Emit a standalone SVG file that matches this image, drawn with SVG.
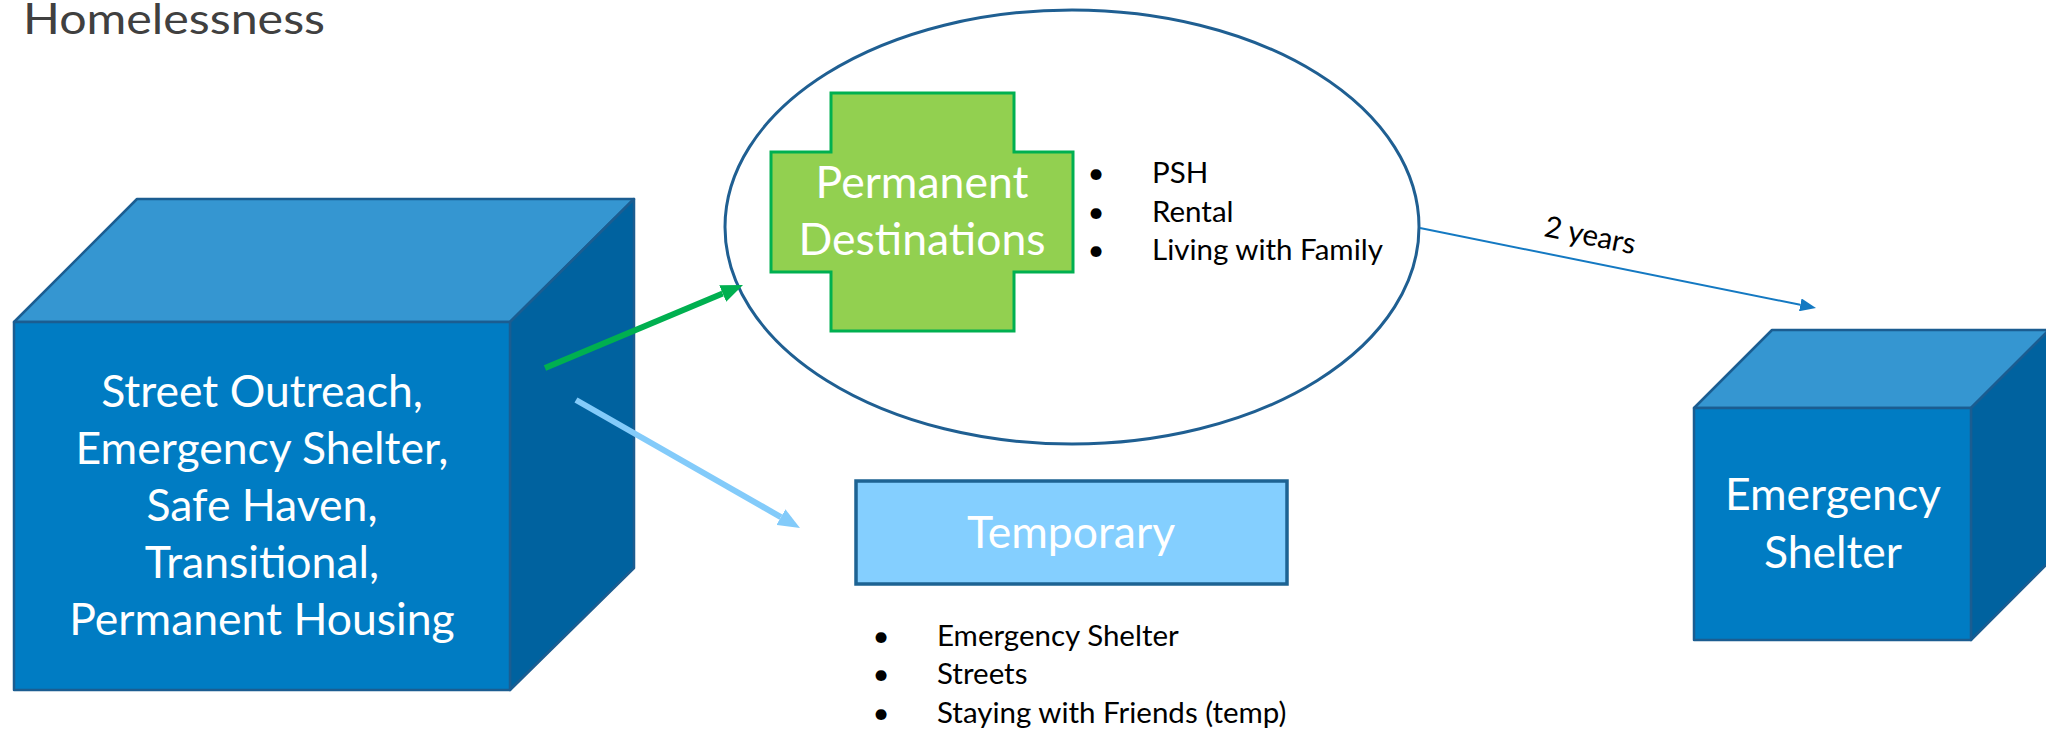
<svg xmlns="http://www.w3.org/2000/svg" width="2046" height="730" viewBox="0 0 2046 730">
  <style>
    .cube-front { fill: #007CC3; stroke: #1B5D91; stroke-width: 2.5; stroke-linejoin: round; }
    .cube-top { fill: #3596D1; stroke: #1B5D91; stroke-width: 2.5; stroke-linejoin: round; }
    .cube-side { fill: #00629F; stroke: #1B5D91; stroke-width: 2.5; stroke-linejoin: round; }
    .big { font-family: Lato, "Liberation Sans", sans-serif; font-size: 44.5px; fill: #FFFFFF; text-anchor: middle; }
    .small { font-family: Lato, "Liberation Sans", sans-serif; font-size: 29.5px; fill: #000000; }
    .dot { text-anchor: middle; }
    .title { font-family: Lato, "Liberation Sans", sans-serif; font-size: 42px; fill: #404040; }
  </style>
  <defs>
    <marker id="head-green" markerUnits="userSpaceOnUse" markerWidth="22" markerHeight="18" refX="0" refY="9" orient="auto">
      <path d="M0,0 L22,9 L0,18 Z" fill="#00B050"/>
    </marker>
    <marker id="head-sky" markerUnits="userSpaceOnUse" markerWidth="22" markerHeight="18" refX="0" refY="9" orient="auto">
      <path d="M0,0 L22,9 L0,18 Z" fill="#83CBFA"/>
    </marker>
    <marker id="head-blue" markerUnits="userSpaceOnUse" markerWidth="16" markerHeight="13" refX="0" refY="6.5" orient="auto">
      <path d="M0,0 L16,6.5 L0,13 Z" fill="#1479C2"/>
    </marker>
  </defs>

  <text class="title" x="23" y="34" textLength="302" lengthAdjust="spacingAndGlyphs">Homelessness</text>

  <!-- source programs cube -->
  <g id="programs">
    <polygon class="cube-top" points="14,322 137,199 634,199 510,322"/>
    <polygon class="cube-side" points="510,322 634,199 634,568 510,690"/>
    <rect class="cube-front" x="14" y="322" width="496" height="368"/>
    <text class="big" x="262" y="407">Street Outreach,</text>
    <text class="big" x="262" y="464">Emergency Shelter,</text>
    <text class="big" x="262" y="521">Safe Haven,</text>
    <text class="big" x="262" y="578">Transitional,</text>
    <text class="big" x="262" y="635">Permanent Housing</text>
  </g>

  <!-- permanent destinations -->
  <g id="permanent">
    <ellipse cx="1072" cy="227" rx="347" ry="217" fill="#FFFFFF" stroke="#1F5F92" stroke-width="3"/>
    <polygon points="831,93 1014,93 1014,152 1073,152 1073,272 1014,272 1014,331 831,331 831,272 771,272 771,152 831,152" fill="#92D050" stroke="#00B050" stroke-width="3"/>
    <text class="big" x="922" y="198">Permanent</text>
    <text class="big" x="922" y="255">Destinations</text>
    <text class="small dot" x="1096" y="183">•</text>
    <text class="small dot" x="1096" y="222">•</text>
    <text class="small dot" x="1096" y="260">•</text>
    <text class="small" x="1152" y="183">PSH</text>
    <text class="small" x="1152" y="222">Rental</text>
    <text class="small" x="1152" y="260">Living with Family</text>
  </g>

  <!-- temporary destinations -->
  <g id="temporary">
    <rect x="856" y="481" width="431" height="103" fill="#84CFFF" stroke="#1D6393" stroke-width="3.5"/>
    <text class="big" x="1071" y="548">Temporary</text>
    <text class="small dot" x="881" y="646">•</text>
    <text class="small dot" x="881" y="684">•</text>
    <text class="small dot" x="881" y="723">•</text>
    <text class="small" x="937" y="646">Emergency Shelter</text>
    <text class="small" x="937" y="684">Streets</text>
    <text class="small" x="937" y="723">Staying with Friends (temp)</text>
  </g>

  <!-- return to shelter cube -->
  <g id="shelter">
    <polygon class="cube-top" points="1694,408 1772,330 2049,330 1971,408"/>
    <polygon class="cube-side" points="1971,408 2049,330 2049,562 1971,640"/>
    <rect class="cube-front" x="1694" y="408" width="277" height="232"/>
    <text class="big" x="1833" y="510">Emergency</text>
    <text class="big" x="1833" y="568">Shelter</text>
  </g>

  <g id="connectors" fill="none">
    <line x1="545" y1="368" x2="722.7" y2="293.5" stroke="#00B050" stroke-width="6" marker-end="url(#head-green)"/>
    <line x1="576" y1="400" x2="780.9" y2="517.1" stroke="#83CBFA" stroke-width="6" marker-end="url(#head-sky)"/>
    <line x1="1420" y1="228" x2="1800.3" y2="304.8" stroke="#1479C2" stroke-width="2" marker-end="url(#head-blue)"/>
    <text class="small" x="1543" y="236" transform="rotate(11.4 1543 236)" fill="#000000">2 years</text>
  </g>
</svg>
